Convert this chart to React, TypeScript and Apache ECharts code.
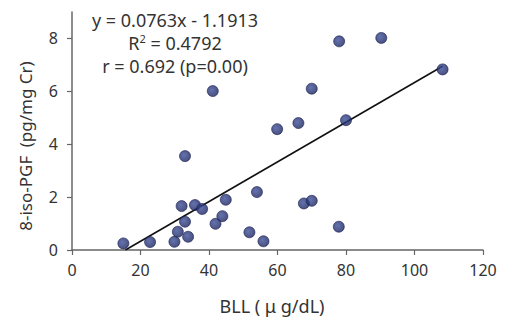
import React, { useEffect, useRef } from "react";
import * as echarts from "echarts";

const bllValues = [15, 22.8, 29.9, 30.9, 33.9, 33, 32, 35.9, 38, 33, 41.1, 41.9, 43.9, 44.9, 51.8, 54, 55.9, 59.9, 78, 90.3, 108.2, 70, 66.1, 80, 67.7, 70, 77.9];
const isoValues = [0.25, 0.3, 0.31, 0.69, 0.5, 1.07, 1.66, 1.7, 1.55, 3.55, 6.01, 0.99, 1.28, 1.9, 0.67, 2.19, 0.33, 4.57, 7.89, 8.02, 6.83, 6.1, 4.8, 4.91, 1.76, 1.86, 0.88];
const fitLine = [[15.6, 0], [108.2, 6.95]];
const xTicks = [0, 20, 40, 60, 80, 100, 120];
const yTicks = [0, 2, 4, 6, 8];
const equationLines = ["y = 0.0763x - 1.1913", "R{sup|2} = 0.4792", "r = 0.692 (p=0.00)"];
const xName = "BLL ( \u03bc g/dL)";
const yName = "8-iso-PGF\u2002(pg/mg Cr)";

const FONT = "Noto Sans";

export default function App() {
  const ref = useRef<HTMLDivElement>(null);
  useEffect(() => {
    document.body.style.margin = "0";
    if (!ref.current) return;
    const chart = echarts.init(ref.current, null, { renderer: "svg" });
    const points = bllValues.map((x, i) => [x, isoValues[i]]);
    chart.setOption({
      animation: false,
      backgroundColor: "#fff",
      textStyle: { fontFamily: FONT },
      grid: { left: 72, right: 24, top: 12, bottom: 70 },
      xAxis: {
        type: "value",
        min: 0,
        max: 120,
        interval: 20,
        splitLine: { show: false },
        axisLine: { lineStyle: { color: "#666", width: 1.5 } },
        axisTick: { show: true, length: 5, lineStyle: { color: "#666", width: 1.2 }, customValues: xTicks },
        axisLabel: { color: "#333", fontSize: 16, margin: 12, fontFamily: FONT, customValues: xTicks },
      },
      yAxis: {
        type: "value",
        min: 0,
        max: 9,
        interval: 1,
        splitLine: { show: false },
        axisLine: { lineStyle: { color: "#666", width: 1.5 } },
        axisTick: { show: true, length: 5, lineStyle: { color: "#666", width: 1.2 }, customValues: yTicks },
        axisLabel: { color: "#333", fontSize: 16, margin: 14, fontFamily: FONT, customValues: yTicks },
      },
      graphic: [
        {
          type: "text",
          x: 25,
          y: 146,
          rotation: Math.PI / 2,
          style: {
            text: yName,
            fontSize: 17,
            fontFamily: FONT,
            fill: "#333",
            textAlign: "center",
            textVerticalAlign: "middle",
          },
        },
        {
          type: "text",
          x: 272,
          y: 306,
          style: {
            text: xName,
            fontSize: 18,
            fontFamily: FONT,
            fill: "#333",
            textAlign: "center",
            textVerticalAlign: "middle",
          },
        },
        ...equationLines.map((t, i) => ({
          type: "text",
          x: 175,
          y: [20, 43, 66][i],
          style: {
            text: t,
            fontSize: 18,
            fontFamily: FONT,
            fill: "#333",
            textAlign: "center",
            textVerticalAlign: "middle",
            rich: { sup: { fontSize: 11, fill: "#333", fontFamily: FONT, padding: [0, 0, 9, 0] } },
          },
        })),
      ],
      series: [
        {
          type: "line",
          data: fitLine,
          symbol: "none",
          lineStyle: { color: "#111", width: 1.6 },
          z: 2,
        },
        {
          type: "scatter",
          data: points,
          symbolSize: 11,
          itemStyle: {
            color: new echarts.graphic.RadialGradient(0.4, 0.4, 0.6, [
              { offset: 0, color: "#3d4f9a" },
              { offset: 1, color: "#1c2660" },
            ]),
            borderColor: "#1a2152",
            borderWidth: 0.8,
          },
          z: 3,
        },
      ],
    });
    return () => chart.dispose();
  }, []);
  return <div ref={ref} style={{ width: 507, height: 320 }} />;
}
